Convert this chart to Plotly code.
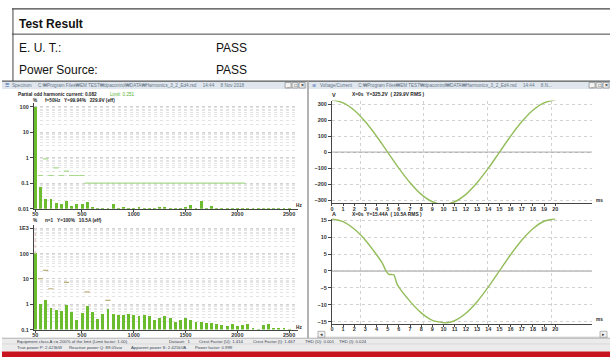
import plotly.graph_objects as go

W, H = 610, 360
def px(x): return x / W
def py(y): return 1 - y / H

# ---------------- data ----------------
harmonic_numbers = list(range(1, 51))
fundamental_hz = 50
harmonic_freqs = [n * fundamental_hz for n in harmonic_numbers]

# voltage harmonics (% of fundamental)
voltage_harm_pct = [99.94, 0.073, 0.024, 0.024, 0.017, 0.016, 0.020, 0.013, 0.015, 0.015,
                    0.018, 0.012, 0.0107, 0.0107, 0.0107, 0.016, 0.0107, 0.012, 0.0107, 0.0107,
                    0.012, 0.0107, 0.0107, 0.0107, 0.012, 0.012, 0.0107, 0.011, 0.0107, 0.012,
                    0.014, 0.0107, 0.020, 0.0107, 0.013, 0.0107, 0.0107, 0.0107, 0.0107, 0.0107,
                    0.0107, 0.0107, 0.0107, 0.0107, 0.0107, 0.0107, 0.0107, 0.0107, 0.0107, 0.0107]
voltage_limit_harm = [2, 3, 4, 5, 6, 7, 8, 9, 10] + list(range(11, 42))
voltage_limit_pct = [0.2, 0.9, 0.2, 0.4, 0.2, 0.3, 0.2, 0.2, 0.2] + [0.1] * 31

# current harmonics (% of fundamental)
current_harm_pct = [100, 1.03, 1.39, 0.69, 0.56, 0.51, 0.95, 0.50, 0.24, 0.43,
                    0.82, 0.48, 0.25, 0.41, 0.63, 0.40, 0.38, 0.37, 0.40, 0.38,
                    0.34, 0.38, 0.33, 0.24, 0.28, 0.34, 0.29, 0.20, 0.24, 0.27,
                    0.24, 0.19, 0.20, 0.17, 0.17, 0.16, 0.15, 0.14, 0.16, 0.14,
                    0.145, 0.16, 0.11, 0.10, 0.145, 0.16, 0.11, 0.11, 0.11, 0.105]
current_limit_harm = [2, 3, 4, 7, 11, 15]
current_limit_pct = [10.3, 21.9, 4.1, 7.3, 3.1, 1.43]

# waveforms
voltage_t_ms = list(range(0, 21))
voltage_v = [325.2, 308, 262, 190, 100, 0, -100, -190, -262, -308, -325,
             -308, -262, -190, -100, 0, 100, 190, 262, 308, 325]
current_t_ms = [0, 1, 2, 3, 4, 4.5, 4.85, 5.1, 5.55, 5.8, 6, 7, 8, 9, 10, 10.2,
                11, 12, 13, 14, 15, 16, 17, 18, 19, 20]
current_a = [15.44, 14.6, 12.4, 9.1, 4.8, 2.4, 0, -1.0, -1.1, -3.6, -4.8, -9.0, -12.4, -14.6,
             -15.3, -15.4, -14.7, -12.5, -9.1, -4.8, 0, 4.8, 9.1, 12.5, 14.7, 15.44]

x_ticks_hz = [50, 500, 1000, 1500, 2000, 2500]
y_ticks_top = [0.01, 0.1, 1, 10, 100]
y_ticktext_top = ["0.01", "0.1", "1", "10", "100"]
y_ticks_bot = [0.1, 1, 10, 100, 1000]
y_ticktext_bot = ["0.1", "1", "10", "100", "1E3"]
v_ticks = [-300, -200, -100, 0, 100, 200, 300]
a_ticks = [-15, -10, -5, 0, 5, 10, 15]
ms_ticks = list(range(0, 21))

status_line1 = ["Equipment class A <= 200% of the limit (Limit factor: 1.00)", "Dataset:  1",
                "Crest Factor (U): 1.414", "Crest Factor (I): 1.467", "THD (U): 0.001",
                "THD (I): 0.024"]
status_line2 = ["True power P: 2.423kW", "Reactive power Q: 89.05var",
                "Apparent power S: 2.425kVA", "Power factor: 0.999"]

# ---------------- style ----------------
BAR = "#6cbd2e"
LIMIT = "#a6d98a"
WAVE = "#93bd5a"
AX = "#444444"
GRID = "#d2d2d2"
SF = "Liberation Sans"
TF = dict(family=SF, size=5.5, color="#333333", weight="bold")
half = fundamental_hz / 2

def seg(harms, vals):
    xs, ys = [], []
    for h, v in zip(harms, vals):
        xs += [h * fundamental_hz - half, h * fundamental_hz + half, None]
        ys += [v, v, None]
    return xs, ys

fig = go.Figure()

# spectrum voltage
fig.add_bar(x=harmonic_freqs, y=voltage_harm_pct, width=28, marker_color=BAR,
            marker_line_width=0, xaxis="x", yaxis="y")
lx, ly = seg(voltage_limit_harm, voltage_limit_pct)
fig.add_scatter(x=lx, y=ly, mode="lines", line=dict(color=LIMIT, width=1.2),
                xaxis="x", yaxis="y", hoverinfo="skip")

# spectrum current
fig.add_bar(x=harmonic_freqs, y=current_harm_pct, width=28, marker_color=BAR,
            marker_line_width=0, xaxis="x2", yaxis="y2")
lx, ly = seg(current_limit_harm, current_limit_pct)
fig.add_scatter(x=lx, y=ly, mode="lines", line=dict(color="#bcae7a", width=1.2),
                xaxis="x2", yaxis="y2", hoverinfo="skip")
fig.add_scatter(x=[harmonic_freqs[0], harmonic_freqs[0]], y=[current_harm_pct[0], 1000],
                mode="lines", line=dict(color="#e6c9c9", width=1.5, dash="dot"),
                xaxis="x2", yaxis="y2", hoverinfo="skip")

# waveforms
fig.add_scatter(x=voltage_t_ms, y=voltage_v, mode="lines",
                line=dict(color=WAVE, width=1.4, shape="spline"), xaxis="x3", yaxis="y3")
fig.add_scatter(x=current_t_ms, y=current_a, mode="lines",
                line=dict(color=WAVE, width=1.4, shape="spline", smoothing=0.5),
                xaxis="x4", yaxis="y4")

log_minor = [m * 10 ** e for e in range(-3, 4) for m in range(2, 10)]
vgrid_ms = [2.6, 8.2, 13.9, 19.7]

common_x = dict(showline=True, linecolor=AX, linewidth=1, ticks="outside", ticklen=2,
                tickcolor=AX, tickfont=TF, showgrid=False, zeroline=False, fixedrange=True,
                ticklabelstandoff=-2)
common_y = dict(showline=True, linecolor=AX, linewidth=1, ticks="outside", ticklen=3,
                tickcolor=AX, tickfont=TF, zeroline=False, fixedrange=True)

v_scale = (201.7 - 104.3) / 600
a_scale = (324.3 - 221.7) / 30

fig.update_layout(
    width=W, height=H, margin=dict(l=0, r=0, t=0, b=0),
    paper_bgcolor="white", plot_bgcolor="white", showlegend=False, bargap=0,
    xaxis=dict(common_x, domain=[px(32), px(297)], range=[36, 2586], tickvals=x_ticks_hz,
               anchor="y"),
    yaxis=dict(common_y, domain=[py(210), py(103.1)], type="log", range=[-2, 2.15],
               tickvals=y_ticks_top, ticktext=y_ticktext_top, showgrid=True, gridcolor=GRID,
               griddash="dot", minor=dict(tickvals=log_minor, showgrid=True, gridcolor="#e4e4e4",
                                          griddash="dot"), anchor="x"),
    xaxis2=dict(common_x, domain=[px(32), px(297)], range=[36, 2586], tickvals=x_ticks_hz,
                anchor="y2"),
    yaxis2=dict(common_y, domain=[py(332.3), py(226.8)], type="log", range=[-1, 3.12],
                tickvals=y_ticks_bot, ticktext=y_ticktext_bot, showgrid=True, gridcolor=GRID,
                griddash="dot", minor=dict(tickvals=log_minor, showgrid=True, gridcolor="#e4e4e4",
                                           griddash="dot"), anchor="x2"),
    xaxis3=dict(common_x, domain=[px(331), px(592)], range=[0, 23.3], tickvals=ms_ticks,
                minor=dict(tickvals=vgrid_ms, showgrid=True, gridcolor=GRID, griddash="dot"),
                anchor="y3"),
    yaxis3=dict(common_y, domain=[py(201.7 + 16 * v_scale), py(100.7)], range=[-316, 322],
                tickvals=v_ticks, showgrid=True, gridcolor=GRID, griddash="dot", anchor="x3"),
    xaxis4=dict(common_x, domain=[px(331), px(592)], range=[0, 23.3], tickvals=ms_ticks,
                minor=dict(tickvals=vgrid_ms, showgrid=True, gridcolor=GRID, griddash="dot"),
                anchor="y4"),
    yaxis4=dict(common_y, domain=[py(324.3 + 0.6 * a_scale), py(220)], range=[-15.6, 15.5],
                tickvals=a_ticks, showgrid=True, gridcolor=GRID, griddash="dot", anchor="x4"),
)

shapes = []
def line(x0, y0, x1, y1, color="#333", width=1, layer="above"):
    shapes.append(dict(type="line", xref="paper", yref="paper", x0=px(x0), y0=py(y0),
                       x1=px(x1), y1=py(y1), line=dict(color=color, width=width), layer=layer))
def rect(x0, y0, x1, y1, fill, color=None, width=0, layer="below"):
    shapes.append(dict(type="rect", xref="paper", yref="paper", x0=px(x0), y0=py(y0),
                       x1=px(x1), y1=py(y1), fillcolor=fill,
                       line=dict(color=color or fill, width=width), layer=layer))

# header table
line(10, 8, 610, 8, "#444", 1.2)
line(10, 33.5, 610, 33.5, "#444", 1)
line(11, 8, 11, 81, "#444", 1)
# window title bars
rect(0, 81, 306, 89, "#dfe6ee")
rect(308, 81, 610, 89, "#dfe6ee")
line(0, 81, 610, 81, "#333", 1)
line(307, 81, 307, 341, "#9a9a9a", 1.5)
# horizontal scrollbar of waveform window
line(316, 340, 608, 340, "#b8b8b8", 0.8)
rect(317, 334, 324, 340, "#f2f2f2", "#888", 0.6, "above")
rect(600, 334, 607, 340, "#f2f2f2", "#888", 0.6, "above")
# status bar and red band
rect(0, 341, 610, 354.5, "#ebebeb")
line(0, 341, 610, 341, "#b0b0b0", 1)
line(0, 346.8, 610, 346.8, "#d0d0d0", 0.6)
rect(0, 354.5, 610, 360, "#c8141e")
# window buttons
for bx in (284, 291, 298, 589, 596, 603):
    rect(bx, 82.5, bx + 6, 88, "#f4f4f4", "#777", 0.6, "above")
# zero reference lines
shapes.append(dict(type="line", xref="x3", yref="y3", x0=0, x1=23.3, y0=0, y1=0,
                   line=dict(color="#b5b5b5", width=1.5), layer="below"))
shapes.append(dict(type="line", xref="x4", yref="y4", x0=0, x1=23.3, y0=0, y1=0,
                   line=dict(color="#b5b5b5", width=1.5), layer="below"))
fig.update_layout(shapes=shapes)

anns = []
def ann(x, y, text, size=5.5, color="#333", bold=False, family=SF, anchor="left"):
    anns.append(dict(xref="paper", yref="paper", x=px(x), y=py(y), text=text, showarrow=False,
                     xanchor=anchor, yanchor="middle",
                     font=dict(family=family, size=size, color=color,
                               weight="bold" if bold else "normal")))

HF = "Liberation Sans"
ann(15, 23, "Test Result", 12, "#111", True, HF)
ann(15, 48, "E. U. T.:", 12, "#111", False, HF)
ann(213, 48, "PASS", 12, "#111", False, HF)
ann(15, 70, "Power Source:", 12, "#111", False, HF)
ann(213, 70, "PASS", 12, "#111", False, HF)

path = "C:₩Program Files₩EM TEST₩dpacontrol₩DATA₩Harmonics_3_2_Ed4.rsd"
ann(1, 85.2, "☰", 5, "#2a5caa")
ann(8, 85.2, "Spectrum     " + path + "     14:44     8 Nov 2018", 4.6, "#667788")
ann(309, 85.2, "≋", 5, "#2a5caa")
ann(317, 85.2, "Voltage/Current     " + path + "     14:44     8.N...", 4.6, "#667788")
for bx, t in zip((284, 291, 298, 589, 596, 603), ("_", "□", "×", "_", "□", "×")):
    ann(bx + 3, 85.2, t, 5, "#222", True, anchor="center")
ann(320.5, 337, "◂", 4.5, "#333", anchor="center")
ann(603.5, 337, "▸", 4.5, "#333", anchor="center")

ann(14, 95, "Partial odd harmonic current: 0.082", 4.7, "#222", True)
ann(106, 95, "Limit: 0.251", 4.7, "#55b030", False)
ann(29, 100.5, "%      f=50Hz   Y=99.94%   229.9V (eff)", 4.7, "#222", True)
ann(29, 222, "%      n=1   Y=100%   10.5A (eff)", 4.7, "#222", True)
ann(293, 206.5, "Hz", 4.7, "#222", True)
ann(293, 330.5, "Hz", 4.7, "#222", True)

ann(329, 95, "V", 5.5, "#222", True)
ann(349, 95, "X=0s  Y=325.2V  ( 229.9V RMS )", 4.9, "#222", True)
ann(329, 215.5, "A", 5.5, "#222", True)
ann(349, 215.5, "X=0s  Y=15.44A  ( 10.5A RMS )", 4.9, "#222", True)
ann(594, 202, "ms", 4.7, "#222", True)
ann(594, 322, "ms", 4.7, "#222", True)

for x0, t in zip([13, 166, 196, 250, 302, 336], status_line1):
    ann(x0, 344, t, 4.3, "#3a4455")
for x0, t in zip([13, 65, 127, 192], status_line2):
    ann(x0, 350, t, 4.3, "#3a4455")
fig.update_layout(annotations=anns)

fig.write_html("out.html", config={"displayModeBar": False},
               post_script="document.body.style.margin='0';"
                           "document.body.style.overflow='hidden';")
